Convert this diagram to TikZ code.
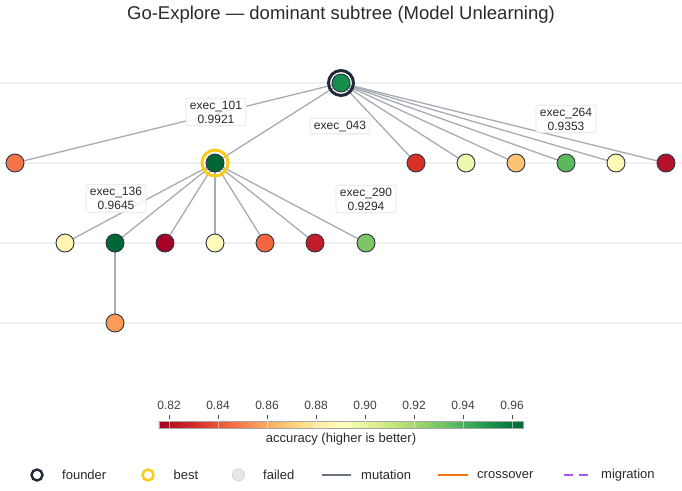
\documentclass[tikz,border=0pt]{standalone}
\usepackage{fontspec}
\setmainfont{Liberation Sans}
\usetikzlibrary{backgrounds}
\definecolor{edgec}{HTML}{A7ABB4}
\definecolor{gridc}{HTML}{F1F1F1}
\definecolor{nodeline}{HTML}{2F3542}
\definecolor{founderc}{HTML}{1F2937}
\definecolor{bestc}{HTML}{FACC15}
\definecolor{lblborder}{HTML}{E3E5E8}
\definecolor{txt}{HTML}{2A2A2A}
\definecolor{mutc}{HTML}{6B7280}
\definecolor{crossc}{HTML}{F97316}
\definecolor{migc}{HTML}{A855F7}
\definecolor{failfill}{HTML}{E5E7EB}
\definecolor{failline}{HTML}{D1D5DB}
% node colours
\definecolor{nRoot}{HTML}{178F4C}
\definecolor{nL}{HTML}{F57547}
\definecolor{nBest}{HTML}{006837}
\definecolor{nA}{HTML}{D73027}
\definecolor{nB}{HTML}{EFF8AD}
\definecolor{nC}{HTML}{FDC374}
\definecolor{nD}{HTML}{5CB85F}
\definecolor{nE}{HTML}{FFFBB6}
\definecolor{nF}{HTML}{B5112A}
\definecolor{mA}{HTML}{FFF5B1}
\definecolor{mB}{HTML}{006837}
\definecolor{mC}{HTML}{A50026}
\definecolor{mD}{HTML}{FFFCBB}
\definecolor{mE}{HTML}{F16640}
\definecolor{mF}{HTML}{C11C28}
\definecolor{mG}{HTML}{7CC665}
\definecolor{pA}{HTML}{FB9B57}
% colour scale
\definecolor{cb0}{HTML}{A50026}
\definecolor{cb1}{HTML}{D73027}
\definecolor{cb2}{HTML}{F46D43}
\definecolor{cb3}{HTML}{FDAE61}
\definecolor{cb4}{HTML}{FEE08B}
\definecolor{cb5}{HTML}{FFFFBF}
\definecolor{cb6}{HTML}{D9EF8B}
\definecolor{cb7}{HTML}{A6D96A}
\definecolor{cb8}{HTML}{66BD63}
\definecolor{cb9}{HTML}{1A9850}
\definecolor{cb10}{HTML}{006837}
\tikzset{
  nd/.style={circle, draw=nodeline, line width=0.9pt, minimum size=18pt, inner sep=0pt},
  foundring/.style={circle, draw=founderc, line width=3pt, minimum size=25pt, inner sep=0pt},
  bestring/.style={circle, draw=bestc, line width=3pt, minimum size=26pt, inner sep=0pt},
  edg/.style={draw=edgec, line width=1.3pt},
  lbl/.style={draw=lblborder, line width=0.8pt, fill=white, fill opacity=0.85, text opacity=1,
    rounded corners=2pt, inner xsep=4pt, inner ysep=2.5pt, align=center, text=txt,
    font=\fontsize{12}{14}\selectfont},
  legtxt/.style={anchor=west, inner sep=0pt, text=txt, font=\fontsize{13}{15}\selectfont},
}
\begin{document}
\begin{tikzpicture}[x=1pt,y=-1pt]
\useasboundingbox (0,0) rectangle (682,490);
\begin{scope}[on background layer]
  \fill[white] (0,0) rectangle (682,490);
  \foreach \y in {83,163,243,323} \draw[gridc, line width=1.3pt] (0,\y) -- (682,\y);
\end{scope}

\node[txt, font=\fontsize{18.5}{21}\selectfont] (title) at (341,15) {Go-Explore — dominant subtree (Model Unlearning)};

% tree nodes
\node[nd, fill=nRoot] (r) at (341,83) {};
\node[foundring] (rring) at (341,83) {};
\node[nd, fill=nL] (l1) at (15,163) {};
\node[nd, fill=nBest] (b) at (215,163) {};
\node[bestring] (bring) at (215,163) {};
\node[nd, fill=nA] (n1) at (416,163) {};
\node[nd, fill=nB] (n2) at (466,163) {};
\node[nd, fill=nC] (n3) at (516,163) {};
\node[nd, fill=nD] (n4) at (566,163) {};
\node[nd, fill=nE] (n5) at (616,163) {};
\node[nd, fill=nF] (n6) at (666,163) {};
\node[nd, fill=mA] (m1) at (65,243) {};
\node[nd, fill=mB] (m2) at (115,243) {};
\node[nd, fill=mC] (m3) at (165,243) {};
\node[nd, fill=mD] (m4) at (215,243) {};
\node[nd, fill=mE] (m5) at (265,243) {};
\node[nd, fill=mF] (m6) at (315,243) {};
\node[nd, fill=mG] (m7) at (366,243) {};
\node[nd, fill=pA] (p1) at (115,323) {};

\begin{scope}[on background layer]
  \foreach \t in {l1,b,n1,n2,n3,n4,n5,n6} \draw[edg] (r.center) -- (\t.center);
  \foreach \t in {m1,m2,m3,m4,m5,m6,m7} \draw[edg] (b.center) -- (\t.center);
  \draw[edg] (m2.center) -- (p1.center);
\end{scope}

% labels
\node[lbl] (L101) at (216,112) {exec\_101\\0.9921};
\node[lbl] (L043) at (340,126) {exec\_043};
\node[lbl] (L264) at (566,119) {exec\_264\\0.9353};
\node[lbl] (L136) at (116,198.5) {exec\_136\\0.9645};
\node[lbl] (L290) at (366,199) {exec\_290\\0.9294};

% colour bar
\foreach \i [evaluate=\i as \j using int(\i+1)] in {0,...,9}
  \shade[left color=cb\i, right color=cb\j] ({159+36.4*\i-0.2},421) rectangle ({159+36.4*(\i+1)+0.2},428);
\draw[black!35, line width=0.5pt] (159,421) rectangle (523,428);
\foreach \k/\lab in {0/0.82,1/0.84,2/0.86,3/0.88,4/0.90,5/0.92,6/0.94,7/0.96}{
  \draw[white, opacity=0.5, line width=0.8pt] ({169+49*\k},421) -- ({169+49*\k},428);
  \draw[black!70, line width=1pt] ({169+49*\k},414.5) -- ({169+49*\k},419);
  \node[text=txt!90, font=\fontsize{12}{14}\selectfont, inner sep=0pt] (tick\k) at ({169+49*\k},405) {\lab};
}
\node[text=txt, font=\fontsize{13}{15}\selectfont, inner sep=0pt] (cbl) at (341,439) {accuracy (higher is better)};

% legend
\node[circle, draw=founderc, line width=2.4pt, minimum size=11pt, inner sep=0pt] (lgf) at (37,475) {};
\node[legtxt] (lgft) at (62,475) {founder};
\node[circle, draw=bestc, line width=2.4pt, minimum size=11pt, inner sep=0pt] (lgb) at (148,475) {};
\node[legtxt] (lgbt) at (173.5,475) {best};
\node[circle, draw=failline, fill=failfill, line width=0.8pt, minimum size=12pt, inner sep=0pt] (lgx) at (238.5,475) {};
\node[legtxt] (lgxt) at (263,475) {failed};
\coordinate (mu1) at (322,475); \coordinate (mu2) at (351,475);
\draw[mutc, line width=2.5pt] (mu1) -- (mu2);
\node[legtxt] (lgmt) at (361,475) {mutation};
\coordinate (cr1) at (438,475); \coordinate (cr2) at (468,475);
\draw[crossc, line width=2.5pt] (cr1) -- (cr2);
\node[legtxt] (lgct) at (477,475) {crossover};
\coordinate (mg1) at (564,475); \coordinate (mg2) at (590,475);
\draw[migc, line width=2.5pt, dash pattern=on 9pt off 6pt] (mg1) -- (mg2);
\node[legtxt] (lggt) at (601,475) {migration};
\end{tikzpicture}
\end{document}
